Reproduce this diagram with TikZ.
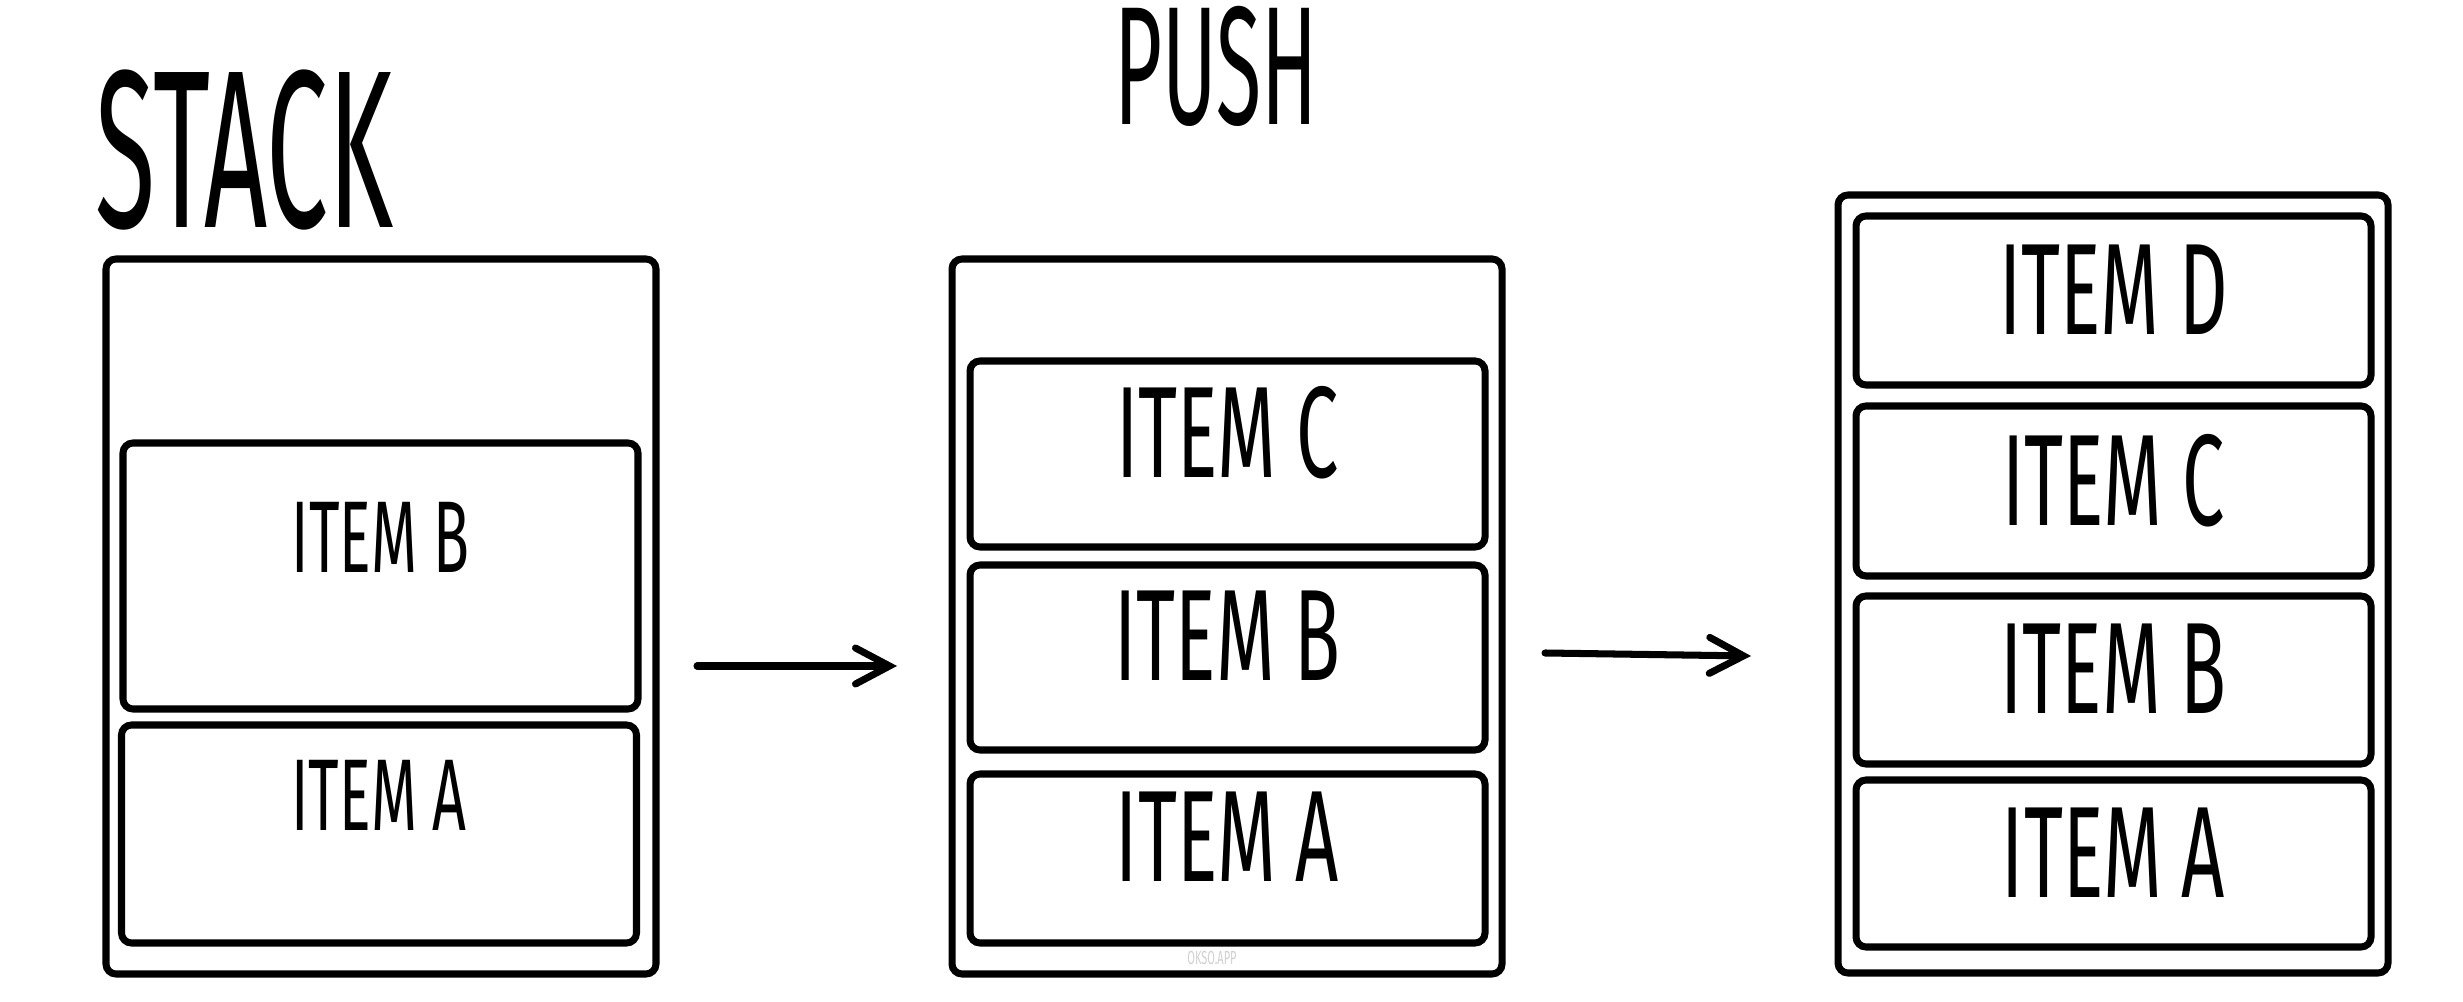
\documentclass[tikz,border=0pt]{standalone}
\usepackage{fontspec}
\newfontfamily\slotfont[FakeStretch=0.58]{Fira Sans}
\newfontfamily\headfont[FakeStretch=0.49]{Fira Sans}
\usetikzlibrary{arrows.meta}
\begin{document}
\begin{tikzpicture}[
    stackbox/.style={rectangle, draw, line width=2pt, rounded corners=1mm, minimum width=5.5cm, inner sep=0pt},
    slot/.style={rectangle, draw, line width=2pt, rounded corners=1mm, minimum width=5.15cm, inner sep=0pt, align=center},
    slotsmall/.style={slot, font=\slotfont\fontsize{29}{30}\selectfont, text depth=7.8mm},
    slotbig/.style={slot, font=\slotfont\fontsize{37}{38}\selectfont},
    heading/.style={anchor=base, font=\headfont\fontsize{64}{64}\selectfont},
    pusharrow/.style={line width=2pt, line cap=round, -{Straight Barb[length=3.4mm, width=3.6mm, line cap=round]}}
]
    \clip (0,0) rectangle (24.63,10.02);
    \fill[white] (0,0) rectangle (24.63,10.02);

    % Titles
    \node[heading] (stacktitle) at (2.445,7.74) {STACK};
    \node[heading, font=\headfont\fontsize{48}{48}\selectfont] (pushtitle) at (12.16,8.77) {PUSH};

    % Stack before push
    \node[stackbox, minimum height=7.15cm] (stack1) at (3.81,3.855) {};
    \node[slotsmall, minimum height=2.66cm] (s1b) at (3.805,4.26) {ITEM B};
    \node[slotsmall, minimum height=2.18cm] (s1a) at (3.79,1.68) {ITEM A};

    % Stack during push
    \node[stackbox, minimum height=7.15cm] (stack2) at (12.27,3.855) {};
    \node[slotbig, minimum height=1.86cm, text depth=4.4mm] (s2c) at (12.275,5.48) {ITEM C};
    \node[slotbig, minimum height=1.85cm, text depth=4.4mm] (s2b) at (12.275,3.445) {ITEM B};
    \node[slotbig, minimum height=1.69cm, text depth=4.4mm] (s2a) at (12.275,1.435) {ITEM A};
    \node[font=\slotfont\fontsize{5.4}{6}\selectfont, text=black!18] (mark) at (12.12,0.445) {OKSO.APP};

    % Stack after push
    \node[stackbox, minimum height=7.78cm] (stack3) at (21.13,4.18) {};
    \node[slotbig, minimum height=1.69cm, text depth=2.2mm] (s3d) at (21.135,7.015) {ITEM D};
    \node[slotbig, minimum height=1.70cm, text depth=2.2mm] (s3c) at (21.135,5.11) {ITEM C};
    \node[slotbig, minimum height=1.68cm, text depth=2.2mm] (s3b) at (21.135,3.22) {ITEM B};
    \node[slotbig, minimum height=1.67cm, text depth=2.2mm] (s3a) at (21.135,1.385) {ITEM A};

    % Arrows
    \coordinate (a1from) at (6.97,3.36);
    \coordinate (a1to) at (8.97,3.36);
    \coordinate (a2from) at (15.45,3.49);
    \coordinate (a2to) at (17.51,3.46);
    \draw[pusharrow] (a1from) -- (a1to);
    \draw[pusharrow] (a2from) -- (a2to);
\end{tikzpicture}
\end{document}
